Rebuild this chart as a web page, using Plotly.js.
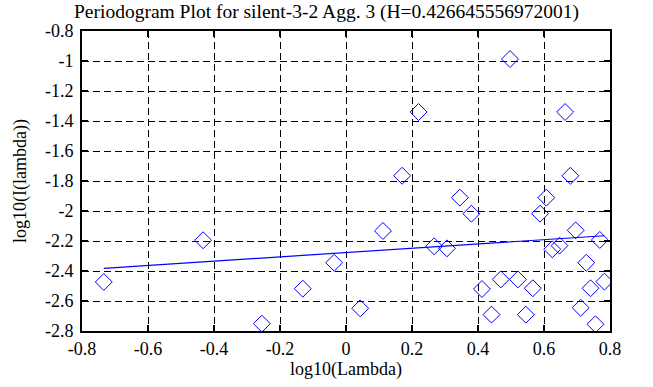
<!DOCTYPE html>
<html>
<head>
<meta charset="utf-8">
<script src="https://cdn.plot.ly/plotly-3.0.1.min.js"></script>
<style>html,body{margin:0;padding:0;background:#fff;}#chart{width:653px;height:387px;}</style>
</head>
<body>
<div id="chart"></div>
<script>
const logLambda = [-0.734,-0.433,-0.255,-0.131,-0.036,0.043,0.112,0.170,0.220,0.267,0.306,0.345,0.380,0.412,0.441,0.469,0.497,0.521,0.545,0.566,0.588,0.607,0.625,0.647,0.664,0.680,0.696,0.711,0.728,0.741,0.756,0.769,0.783];
const logI = [-2.473,-2.195,-2.751,-2.518,-2.345,-2.649,-2.133,-1.765,-1.340,-2.235,-2.249,-1.911,-2.018,-2.520,-2.691,-2.456,-0.987,-2.456,-2.691,-2.515,-2.018,-1.911,-2.255,-2.231,-1.340,-1.765,-2.129,-2.645,-2.345,-2.515,-2.755,-2.193,-2.471];
const fitX = [-0.734, 0.783];
const fitY = [-2.382, -2.165];
const xTicks = [-0.8,-0.6,-0.4,-0.2,0,0.2,0.4,0.6,0.8];
const yTicks = [-0.8,-1,-1.2,-1.4,-1.6,-1.8,-2,-2.2,-2.4,-2.6,-2.8];
const titleText = 'Periodogram Plot for silent-3-2 Agg. 3 (H=0.426645556972001)';

const fam = 'Liberation Serif, DejaVu Serif, serif';
const font = {family:fam, size:18, color:'#000'};
const titleFont = {family:fam, size:19.5, color:'#000'};
const traces = [
  {x: logLambda, y: logI, type:'scatter', mode:'markers',
   marker:{symbol:'diamond-open', size:13, color:'#0000ff', line:{width:1, color:'#0000ff'}}, hoverinfo:'none'},
  {x: fitX, y: fitY, type:'scatter', mode:'lines', line:{color:'#0000ff', width:1.2}, hoverinfo:'none'}
];
const axisCommon = {
  showline:true, linecolor:'#000', linewidth:2, mirror:'ticks',
  ticks:'inside', ticklen:6, tickwidth:1.5, tickcolor:'#000',
  showgrid:true, gridcolor:'#000', gridwidth:1, griddash:'7px,4px',
  zeroline:false, tickfont:font, automargin:false
};
const layout = {
  width:653, height:387, showlegend:false,
  paper_bgcolor:'#fff', plot_bgcolor:'#fff',
  margin:{l:82, r:43, t:31, b:56},
  font: font,
  title:{text:titleText, font:titleFont, x:0.5, xanchor:'center', y:1-11/387, yanchor:'middle', xref:'container', yref:'container'},
  xaxis: Object.assign({}, axisCommon, {range:[-0.8,0.8], tickvals:xTicks, ticktext:xTicks.map(String),
    title:{text:'log10(Lambda)', font:font, standoff:4}}),
  yaxis: Object.assign({}, axisCommon, {range:[-2.8,-0.8], tickvals:yTicks, ticktext:yTicks.map(String),
    ticklabelstandoff:3, title:{text:'log10(I(lambda))', font:font, standoff:14}})
};
Plotly.newPlot('chart', traces, layout, {staticPlot:true, displayModeBar:false});
</script>
</body>
</html>
